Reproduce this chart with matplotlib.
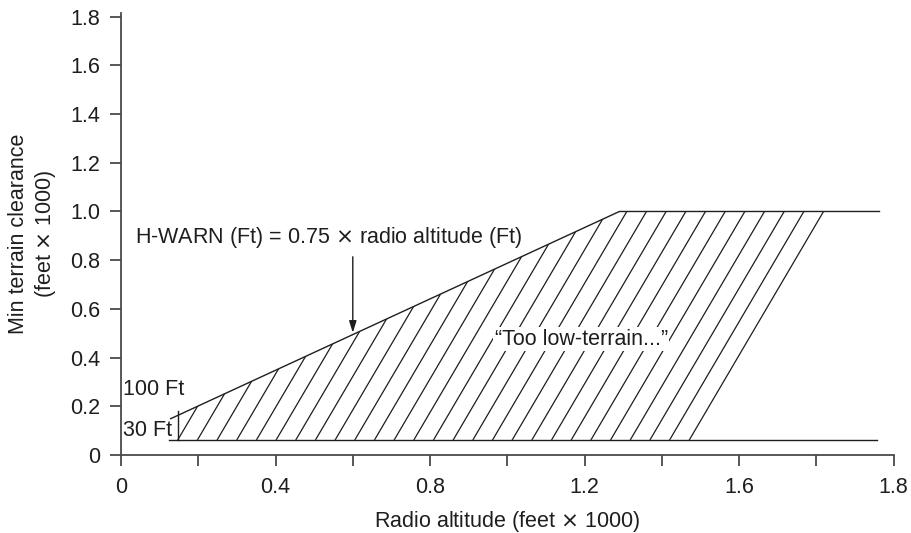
import numpy as np
import matplotlib
matplotlib.use("Agg")
import matplotlib.pyplot as plt
from matplotlib.patches import Polygon

plt.rcParams['font.family'] = ['Liberation Sans', 'DejaVu Sans']
plt.rcParams['mathtext.fontset'] = 'dejavusans'

# ---- data (feet x 1000) ----
hwarn_x = [0.127, 1.29, 1.965]
hwarn_y = [0.148, 1.0, 1.0]
floor_x = [0.124, 1.957]
floor_y = [0.062, 0.062]
mark_x = 0.147
mark_y = [0.062, 0.18]
hatch_first = 0.147
hatch_last = 1.471
hatch_count = 27
hatch_slope = 2.70
hwarn_slope = (hwarn_y[1] - hwarn_y[0]) / (hwarn_x[1] - hwarn_x[0])

xticks_major = [0, 0.4, 0.8, 1.2, 1.6, 2.0]
xtick_labels = ['0', '0.4', '0.8', '1.2', '1.6', '1.8']
xticks_minor = [0.2, 0.6, 1.0, 1.4, 1.8]
yticks = [0, 0.2, 0.4, 0.6, 0.8, 1.0, 1.2, 1.4, 1.6, 1.8]
ytick_labels = ['0', '0.2', '0.4', '0.6', '0.8', '1.0', '1.2', '1.4', '1.6', '1.8']

arrow_x = 0.6
arrow_y = [0.814, 0.502]

fig = plt.figure(figsize=(9.11, 5.33), dpi=100)
ax = fig.add_axes([0.1328, 0.1463, 0.981 - 0.1328, 0.9756 - 0.1463])
ax.set_xlim(0, 2.0)
ax.set_ylim(0, 1.815)

line_c = '#1e1e1e'
spine_c = '#4a4a4a'

# boundary lines
ax.plot(hwarn_x, hwarn_y, color=line_c, lw=1.0, solid_capstyle='butt')
ax.plot(floor_x, floor_y, color=line_c, lw=1.0)
ax.plot([mark_x, mark_x], mark_y, color=line_c, lw=1.0)

# hatched region (clip polygon)
eps = 0.006
top_right_x = hatch_last + (hwarn_y[1] - floor_y[0]) / hatch_slope
y_left = hwarn_y[0] + hwarn_slope * (hatch_first - hwarn_x[0])
poly = Polygon([(hatch_first - eps, floor_y[0]), (hatch_last + eps, floor_y[0]),
                (top_right_x + eps, hwarn_y[1]), (hwarn_x[1], hwarn_y[1]),
                (hatch_first - eps, y_left - eps * hwarn_slope)], closed=True,
               facecolor='none', edgecolor='none')
ax.add_patch(poly)
starts = np.linspace(hatch_first, hatch_last, hatch_count)
for xs in starts:
    xe = xs + (hwarn_y[1] + 0.2 - floor_y[0]) / hatch_slope
    ln, = ax.plot([xs, xe], [floor_y[0], hwarn_y[1] + 0.2], color=line_c, lw=0.9)
    ln.set_clip_path(poly)

# arrow
ax.annotate('', xy=(arrow_x, arrow_y[1]), xytext=(arrow_x, arrow_y[0]),
            arrowprops=dict(arrowstyle='-|>,head_length=0.7,head_width=0.22',
                            color=line_c, lw=1.0, shrinkA=0, shrinkB=0))

fs = 15.5
ax.text(0.036, 0.895, 'H-WARN (Ft) = 0.75 $\\times$ radio altitude (Ft)',
        fontsize=fs, ha='left', va='center', color=line_c)
ax.text(0.967, 0.476, '\u201cToo low-terrain...\u201d', fontsize=fs,
        ha='left', va='center', color=line_c, zorder=5,
        bbox=dict(facecolor='white', edgecolor='none', pad=1.0))
ax.text(0.004, 0.27, '100 Ft', fontsize=fs, ha='left', va='center', color=line_c)
ax.text(0.004, 0.10, '30 Ft', fontsize=fs, ha='left', va='center', color=line_c)

# axes styling
for s in ['top', 'right']:
    ax.spines[s].set_visible(False)
for s in ['left', 'bottom']:
    ax.spines[s].set_color(spine_c)
    ax.spines[s].set_linewidth(1.3)

ax.set_xticks(xticks_major)
ax.set_xticklabels(xtick_labels)
ax.set_xticks(xticks_minor, minor=True)
ax.set_yticks(yticks)
ax.set_yticklabels(ytick_labels)
ax.tick_params(axis='x', which='both', direction='out', length=8, width=1.3,
               color=spine_c, labelsize=fs, pad=8, labelcolor=line_c)
ax.tick_params(axis='y', which='both', direction='out', length=8, width=1.3,
               color=spine_c, labelsize=fs, pad=7, labelcolor=line_c)

ax.set_xlabel('Radio altitude (feet $\\times$ 1000)', fontsize=fs, color=line_c,
              labelpad=8)
ax.set_ylabel('Min terrain clearance\n(feet $\\times$ 1000)', fontsize=fs,
              color=line_c, labelpad=9, linespacing=1.2)

fig.savefig('out.png', dpi=100)
